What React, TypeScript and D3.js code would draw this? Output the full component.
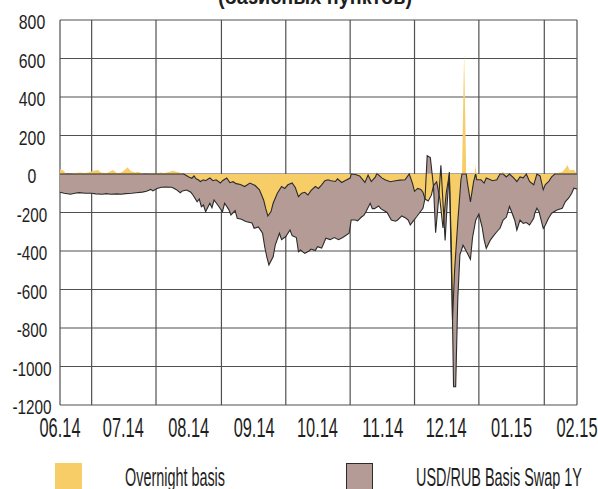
import React from "react";
import * as d3 from "d3";

const W = 598;
const H = 489;

const title = "(базисных пунктов)";
const tickLabels = ["06.14", "07.14", "08.14", "09.14", "10.14", "11.14", "12.14", "01.15", "02.15"];
const yTicks = [800, 600, 400, 200, 0, -200, -400, -600, -800, -1000, -1200];
const legendLabels = ["Overnight basis", "USD/RUB Basis Swap 1Y"];

// days since 2014-06-01
const swapDays = [0, 2, 5, 7, 9, 12, 15, 17, 20, 22, 24, 27, 29, 31, 34, 36, 39, 41, 43, 44, 46, 48, 50, 53, 55, 57, 58, 60, 62, 63, 65, 66, 67, 68, 69, 71, 72, 73, 75, 77, 78, 80, 81, 83, 84, 86, 88, 91, 92, 94, 96, 97, 98, 99, 101, 102, 104, 105, 107, 109, 110, 112, 113, 114, 116, 118, 119, 121, 122, 124, 126, 128, 130, 132, 134, 137, 138, 140, 141, 143, 144, 145, 147, 148, 149, 151, 152, 155, 157, 159, 160, 162, 164, 165, 166, 167, 169, 170.5, 172, 173, 174, 175.5, 177, 178, 179.5, 180.5, 181.5, 182.5, 183.5, 184.5, 185.5, 186.5, 187.5, 188.5, 189.5, 191, 192.5, 194.5, 195.5, 197, 198.5, 200, 201, 202, 204, 205.5, 207, 208.5, 210, 211.5, 213, 214, 215.5, 216.5, 218, 219.5, 221, 222.5, 224.5, 225, 226, 227, 228, 229, 230, 231.5, 233, 235.5, 238, 239.5, 241, 242.5, 243.5, 245];
const swapValues = [-95, -100, -105, -100, -97, -100, -100, -103, -105, -102, -105, -103, -105, -102, -100, -97, -94, -90, -80, -88, -75, -69, -68, -69, -80, -97, -88, -83, -95, -109, -144, -130, -170, -161, -196, -152, -175, -135, -165, -196, -152, -185, -213, -190, -230, -235, -247, -255, -282, -275, -308, -378, -430, -473, -430, -369, -308, -341, -325, -291, -320, -330, -404, -395, -412, -400, -390, -398, -378, -385, -334, -341, -330, -341, -330, -308, -239, -239, -243, -222, -215, -196, -152, -180, -180, -166, -180, -200, -239, -245, -239, -218, -230, -239, -265, -250, -222, -200, -178, -126, 95, 85, -65, -305, -120, 45, -150, -345, -150, 10, -400, -1105, -1105, -650, -420, -370, -400, -443, -330, -240, -208, -274, -342, -386, -342, -320, -300, -282, -239, -225, -169, -196, -240, -291, -239, -256, -252, -265, -230, -204, -178, -196, -240, -282, -265, -230, -204, -187, -178, -143, -126, -100, -74, -78];

const overnightDays = [0, 1.5, 3, 4.5, 7, 9.5, 12, 14.5, 16.5, 18, 19.5, 22, 23.5, 25, 27, 29, 30.5, 32, 33.5, 35.5, 37, 38.5, 40.5, 41.5, 43.5, 45.5, 47.5, 49.5, 52, 53.5, 55.5, 57.5, 58.5, 59.5, 61, 62.5, 63.5, 64.5, 65.5, 66.5, 68, 69, 71, 72.5, 74, 76, 77, 79, 80.5, 82, 83.5, 85.5, 87.5, 90, 92.5, 94.5, 96.5, 97.5, 98.5, 100, 101, 103, 105, 106.5, 108, 110, 111.5, 113, 114.5, 116, 117.5, 119, 121, 122.5, 124, 125.5, 127, 128.5, 130.5, 131.5, 133.5, 135, 137.5, 138, 140, 142, 144.5, 146, 147.5, 149.5, 150, 150.5, 152.5, 154, 156.5, 159, 161, 163.5, 165.5, 167, 168, 169.5, 171, 172, 173, 174.5, 176, 177, 178.5, 180, 181.5, 183, 184.5, 186, 187, 188.5, 190, 190.5, 191.5, 192.5, 193, 194.5, 196, 197, 197.5, 199.5, 201, 202, 204, 205, 207, 208.5, 210, 211.5, 213, 215, 216.5, 218, 219.5, 221, 222.5, 224.5, 226, 227.5, 229, 230, 231.5, 233, 234.5, 236, 238, 239.5, 240.5, 241.5, 243.5, 245];
const overnightValues = [25, 20, 0, 0, 5, 8, 5, 12, 18, 21, 8, 5, 12, 21, 5, 8, 20, 35, 15, 8, 12, 5, 0, 2, 5, 3, 8, 5, 12, 17, 10, 5, 0, -5, -15, -22, -10, -25, -30, -39, -30, -35, -21, -35, -30, -47, -35, -21, -45, -40, -50, -55, -65, -47, -60, -82, -135, -180, -218, -195, -152, -100, -65, -75, -56, -47, -70, -118, -100, -95, -109, -85, -65, -75, -56, -35, -30, -35, -39, -25, -44, -35, -21, 0, -3, -10, -44, -5, -39, -15, 12, 0, -20, -30, -40, -35, -32, -30, 0, -47, -90, -75, -80, -95, -130, -140, -110, -60, -40, -130, -280, -100, 0, -760, -500, -250, -30, 0, 630, 0, -40, -145, -40, 47, -30, -30, -47, -21, -30, -35, -30, 0, 12, -15, 0, -20, -39, -15, -20, 0, -39, -56, 0, -10, -82, -55, -40, -15, 0, 7, 10, 30, 47, 20, 22, 0];

const YELLOW = "#F7CD67";
const BROWN = "#B59B96";
const DARK = "#2b2b2b";
const GRID = "#505050";
const FONT = "'Liberation Sans Narrow', 'Arial Narrow', 'Liberation Sans', sans-serif";
const TEXT = "#1e1e1e";

const DAY = 86400000;
const start = Date.UTC(2014, 5, 1);
const end = Date.UTC(2015, 1, 1);
const toDate = (d: number) => new Date(start + d * DAY);

export default function App() {
  const left = 60, right = 577, top = 20, bottom = 405;
  const x = d3.scaleUtc().domain([new Date(start), new Date(end)]).range([left, right]);
  const y = d3.scaleLinear().domain([-1200, 800]).range([bottom, top]);

  const monthTicks = d3.utcMonth.range(new Date(start), new Date(end + DAY));
  const midGrid = monthTicks.slice(0, -1).map((m, i) => (x(m) + x(monthTicks[i + 1])) / 2);

  const swap = swapDays.map((d, i) => ({ t: toDate(d), v: swapValues[i] }));
  const on = overnightDays.map((d, i) => ({ t: toDate(d), v: overnightValues[i] }));

  const area = d3.area<{ t: Date; v: number }>().x((d) => x(d.t)).y0(y(0)).y1((d) => y(d.v));
  const line = d3.line<{ t: Date; v: number }>().x((d) => x(d.t)).y((d) => y(d.v));
  const negLine = d3.line<{ t: Date; v: number }>().x((d) => x(d.t)).y((d) => y(Math.min(0, d.v)));

  const yLabelLen = (t: number) => {
    const s = String(Math.abs(t));
    return s.length * 8.8 + (t < 0 ? 4 : 0);
  };

  return (
    <svg width={W} height={H} style={{ position: "absolute", left: 0, top: 0, background: "#fff" }}>
      <text x={218} y={4} fontFamily={FONT} fontWeight="bold" fontSize={22} textLength={194} lengthAdjust="spacingAndGlyphs" fill={TEXT}>{title}</text>
      {/* grid */}
      {yTicks.map((t) => (
        <line key={"h" + t} x1={left} x2={right} y1={y(t)} y2={y(t)} stroke={GRID} strokeWidth={1.2} />
      ))}
      {midGrid.map((gx, i) => (
        <line key={"v" + i} x1={gx} x2={gx} y1={top} y2={bottom} stroke={GRID} strokeWidth={1.2} />
      ))}
      <line x1={left} x2={left} y1={top} y2={bottom} stroke={GRID} strokeWidth={1.2} />
      <line x1={right} x2={right} y1={top} y2={bottom} stroke={GRID} strokeWidth={1.2} />
      {/* areas */}
      <path d={area(swap) || ""} fill={BROWN} />
      <path d={area(on) || ""} fill={YELLOW} />
      <path d={line(swap) || ""} fill="none" stroke={DARK} strokeWidth={1.1} />
      <path d={negLine(on) || ""} fill="none" stroke={DARK} strokeWidth={1.1} />
      {/* y labels */}
      {yTicks.map((t) => (
        <text key={"yl" + t} x={32} y={y(t) + 9} textAnchor="middle" fontFamily={FONT} fontSize={21} textLength={yLabelLen(t)} lengthAdjust="spacingAndGlyphs" fill={TEXT}>{t}</text>
      ))}
      {/* x labels */}
      {monthTicks.map((m, i) => (
        <text key={"xl" + i} x={x(m)} y={437} textAnchor="middle" fontFamily={FONT} fontSize={28} textLength={41} lengthAdjust="spacingAndGlyphs" fill={TEXT}>{tickLabels[i]}</text>
      ))}
      {/* legend */}
      <rect x={55} y={463} width={27} height={30} fill={YELLOW} />
      <text x={125} y={486} fontFamily={FONT} fontSize={25} textLength={100} lengthAdjust="spacingAndGlyphs" fill={TEXT}>{legendLabels[0]}</text>
      <rect x={346.5} y={463.5} width={26} height={30} fill={BROWN} stroke={DARK} strokeWidth={1} />
      <text x={416} y={486} fontFamily={FONT} fontSize={25} textLength={166} lengthAdjust="spacingAndGlyphs" fill={TEXT}>{legendLabels[1]}</text>
    </svg>
  );
}
